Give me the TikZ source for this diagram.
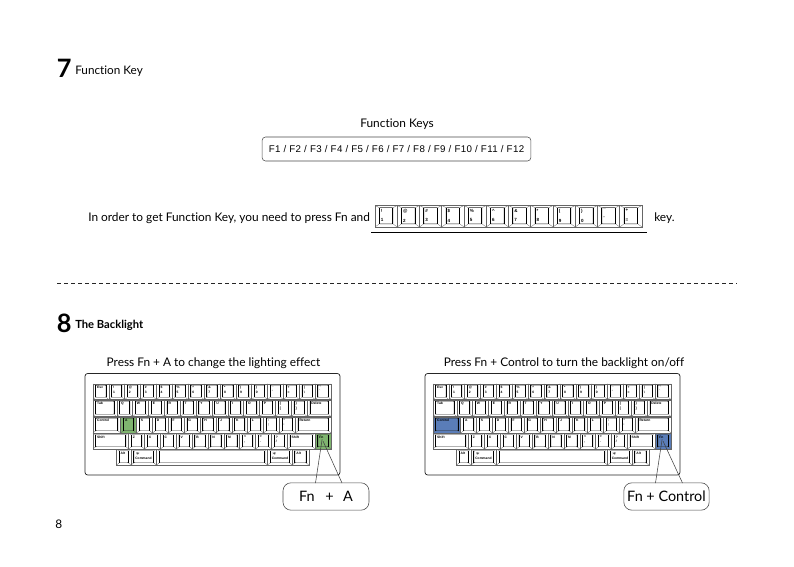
\documentclass[tikz,border=0pt]{standalone}
\usepackage{fontspec}
\setmainfont{Lato}[Ligatures=NoCommon]
\newfontfamily\keyfont{Liberation Sans}
\newfontfamily\fkfont{Liberation Sans}[LetterSpace=4]
\usetikzlibrary{calc}
\definecolor{kgreen}{HTML}{7FB56F}
\definecolor{kblue}{HTML}{5A7DB8}
\def\klab{2.5}
\tikzset{
  body/.style={font=\fontsize{8.9}{11}\selectfont, inner sep=0pt, text=black},
  heading/.style={font=\fontsize{8.8}{11}\selectfont, inner sep=0pt, text=black},
  bignum/.style={font=\bfseries\fontsize{19}{20}\selectfont, inner sep=0pt, text=black},
  keyface/.style={draw=black!60, line width=0.45pt, inner sep=0pt, outer sep=0pt},
  keytop/.style={draw=black!85, line width=0.3pt, rounded corners=0.5pt, inner sep=0pt, outer sep=0pt},
  keyside/.style={draw=black, line width=0.75pt},
  keylabel/.style={inner sep=0pt, align=left, text=black, font=\keyfont\bfseries\fontsize{\klab}{\klab}\selectfont},
  keycase/.style={draw=black!85, line width=0.55pt, rounded corners=2pt},
  callout/.style={draw=black!70, line width=0.45pt, rounded corners=6pt, inner sep=0pt, font=\fontsize{10.8}{13}\selectfont},
  leader/.style={draw=black!75, line width=0.4pt},
  guide/.style={draw=black!85, line width=0.45pt, dash pattern=on 3pt off 2.25pt}
}
% \kk[fill]{name}{width in units}{label}
\newcommand\kk[4][white]{%
  \pgfmathsetmacro\kxa{\kcur}%
  \pgfmathsetmacro\kxb{\kcur+#3*\kunit}%
  \pgfmathsetmacro\kw{(\kxb-\kxa)*0.75}%
  \pgfmathsetmacro\kh{(\kyb-\kya)*0.75}%
  \pgfmathsetmacro\kcx{(\kxa+\kxb)/2}%
  \pgfmathsetmacro\kcy{(\kya+\kyb)/2}%
  \pgfmathsetmacro\kwi{\kw-1.3*\kins}%
  \pgfmathsetmacro\khi{\kh-0.8*\kins}%
  \node[keyface, fill=#1, minimum width=\kw pt, minimum height=\kh pt] (#2) at (\kcx,\kcy) {};
  \node[keytop, fill=#1, minimum width=\kwi pt, minimum height=\khi pt] (#2t) at ($(#2)+(0,-0.5)$) {};
  \draw[black!60, line width=0.2pt] (#2.north west) -- (#2t.north west) (#2.north east) -- (#2t.north east)
     (#2.south west) -- (#2t.south west) (#2.south east) -- (#2t.south east);
  \draw[keyside] (#2t.north west) -- (#2t.south west) (#2t.north east) -- (#2t.south east);
  \node[keylabel, anchor=north west] (#2l) at ($(#2t.north west)+(1.2,1)$) {#4};
  \xdef\kcur{\kxb}%
}
\newcommand\kbrow[3]{\xdef\kcur{#1}\def\kya{#2}\def\kyb{#3}}
% \kboard{prefix}{left}{fill of A}{fill of Control}{fill of Fn}
\newcommand\kboard[5]{%
  \def\kunit{15.87}\def\kins{3.2}%
  \pgfmathsetmacro\bx{#2}%
  \pgfmathsetmacro\caseR{\bx+255}%
  \draw[keycase] (\bx,373.5) rectangle (\caseR,475);
  \pgfmathsetmacro\ks{\bx+8}%
  \kbrow{\ks}{384}{399.5}%
  \kk{#1a1}{1}{Esc}\kk{#1a2}{1}{!\\[1pt]1}\kk{#1a3}{1}{@\\[1pt]2}\kk{#1a4}{1}{\#\\[1pt]3}\kk{#1a5}{1}{\$\\[1pt]4}%
  \kk{#1a6}{1}{\%\\[1pt]5}\kk{#1a7}{1}{\textasciicircum\\[1pt]6}\kk{#1a8}{1}{\&\\[1pt]7}\kk{#1a9}{1}{*\\[1pt]8}\kk{#1a10}{1}{(\\[1pt]9}%
  \kk{#1a11}{1}{)\\[1pt]0}\kk{#1a12}{1}{\_\\[1pt]-}\kk{#1a13}{1}{+\\[1pt]=}\kk{#1a14}{1}{|\\[1pt]\textbackslash}\kk{#1a15}{1}{\textasciitilde\\[1pt]`}%
  \kbrow{\ks}{400}{416.5}%
  \kk{#1b1}{1.5}{Tab}\kk{#1b2}{1}{Q}\kk{#1b3}{1}{W}\kk{#1b4}{1}{E}\kk{#1b5}{1}{R}\kk{#1b6}{1}{T}\kk{#1b7}{1}{Y}%
  \kk{#1b8}{1}{U}\kk{#1b9}{1}{I}\kk{#1b10}{1}{O}\kk{#1b11}{1}{P}\kk{#1b12}{1}{\{\\[1pt]{[}}\kk{#1b13}{1}{\}\\[1pt]{]}}\kk{#1b14}{1.5}{Delete}%
  \kbrow{\ks}{417}{433}%
  \kk[#4]{#1c1}{1.75}{Control}\kk[#3]{#1c2}{1}{A}\kk{#1c3}{1}{S}\kk{#1c4}{1}{D}\kk{#1c5}{1}{F}\kk{#1c6}{1}{G}\kk{#1c7}{1}{H}%
  \kk{#1c8}{1}{J}\kk{#1c9}{1}{K}\kk{#1c10}{1}{L}\kk{#1c11}{1}{:\\[1pt];}\kk{#1c12}{1}{"\\[1pt]'}\kk{#1c13}{2.25}{Return}%
  \kbrow{\ks}{433.5}{449}%
  \kk{#1d1}{2.25}{Shift}\kk{#1d2}{1}{Z}\kk{#1d3}{1}{X}\kk{#1d4}{1}{C}\kk{#1d5}{1}{V}\kk{#1d6}{1}{B}\kk{#1d7}{1}{N}%
  \kk{#1d8}{1}{M}\kk{#1d9}{1}{<\\[1pt],}\kk{#1d10}{1}{>\\[1pt].}\kk{#1d11}{1}{?\\[1pt]/}\kk{#1d12}{1.75}{Shift}\kk[#5]{#1d13}{1}{Fn}%
  \pgfmathsetmacro\ke{\bx+31.5}%
  \kbrow{\ke}{449.5}{465}%
  \kk{#1e1}{0.92}{Alt}\kk{#1e2}{1.6}{$\ast$\\[1pt]Command}\kk{#1e3}{7}{\mbox{}}\kk{#1e4}{1.55}{$\ast$\\[1pt]Command}\kk{#1e5}{1.05}{Alt}%
}
\begin{document}
\begin{tikzpicture}[x=0.75pt,y=-0.75pt]
\useasboundingbox (0,0) rectangle (794,567);
\fill[white] (0,0) rectangle (794,567);

\node[bignum, anchor=base west] (n7) at (56.5,78) {7};
\node[heading, anchor=base west] (h7) at (75,75) {Function Key};
\node[body, anchor=base] (fkt) at (397,127.5) {Function Keys};
\node[draw=black!70, line width=0.4pt, rounded corners=2.5pt, minimum width=201.5pt, minimum height=18pt, inner sep=0pt,
      font=\fkfont\fontsize{7.3}{9}\selectfont] (fkbox) at (396.5,149)
      {F1 / F2 / F3 / F4 / F5 / F6 / F7 / F8 / F9 / F10 / F11 / F12};

\node[body, anchor=base west] (in) at (88,221.5) {In order to get Function Key, you need to press Fn and};
\node[body, anchor=base west] (ky) at (654,221.5) {key.};
\def\kunit{22.25}\def\kins{5}\def\klab{3.4}
\kbrow{375}{205.5}{227}
\kk{t1}{1}{!\\[4pt]1}\kk{t2}{1}{@\\[4pt]2}\kk{t3}{1}{\#\\[4pt]3}\kk{t4}{1}{\$\\[4pt]4}\kk{t5}{1}{\%\\[4pt]5}\kk{t6}{1}{\textasciicircum\\[4pt]6}
\kk{t7}{1}{\&\\[4pt]7}\kk{t8}{1}{*\\[4pt]8}\kk{t9}{1}{(\\[4pt]9}\kk{t10}{1}{)\\[4pt]0}\kk{t11}{1}{\_\\[4pt]-}\kk{t12}{1}{+\\[4pt]=}
\def\klab{2.5}
\coordinate (ula) at (371,232.5);
\coordinate (ulb) at (647,232.5);
\draw[black, line width=0.6pt] (ula) -- (ulb);

\coordinate (da) at (57,283);
\coordinate (db) at (737,283);
\draw[guide] (da) -- (db);

\node[bignum, anchor=base west] (n8) at (56.5,332) {8};
\node[heading, font=\bfseries\fontsize{8.4}{11}\selectfont, anchor=base west] (h8) at (75,328.5) {The Backlight};
\node[body, anchor=base] (pa) at (213.5,366) {Press Fn + A to change the lighting effect};
\node[body, anchor=base] (pb) at (564,366) {Press Fn + Control to turn the backlight on/off};

\kboard{l}{85}{kgreen}{white}{kgreen}
\kboard{r}{425}{white}{kblue}{kblue}

\node[callout, minimum width=64.5pt, minimum height=20.5pt] (ca) at (326,496.5) {Fn\hspace{8pt}+\hspace{7pt}A};
\node[callout, minimum width=64pt, minimum height=20.5pt] (cb) at (666.5,496.5) {Fn + Control};
\coordinate (caa) at (315.5,483);
\coordinate (cab) at (342,483);
\coordinate (cba) at (655.5,483);
\coordinate (cbb) at (682.5,483);
\draw[leader] (ld13.center) ++(-1,-2) -- (caa);
\draw[leader] (ld13.center) -- (cab);
\draw[leader] (rd13.center) ++(-1,-2) -- (cba);
\draw[leader] (rd13.center) -- (cbb);

\node[body, anchor=base west] (pg) at (55,528) {8};
\end{tikzpicture}
\end{document}
